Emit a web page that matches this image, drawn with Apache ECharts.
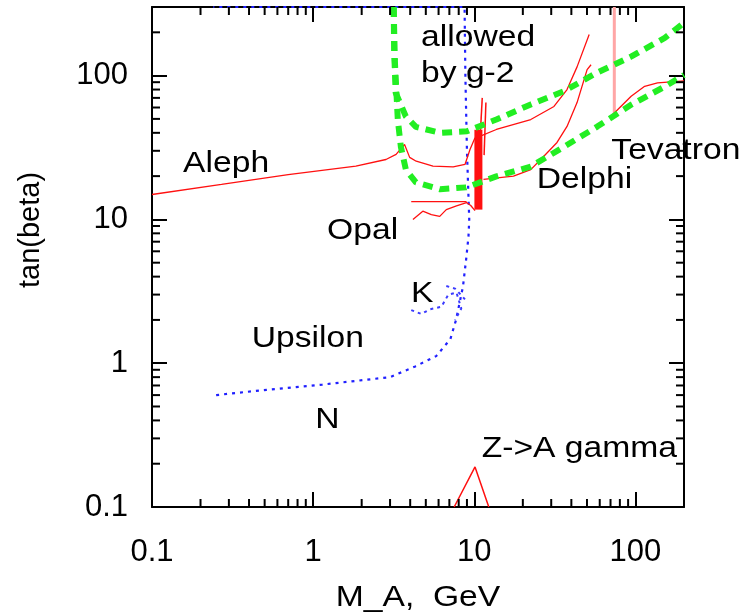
<!DOCTYPE html>
<html>
<head>
<meta charset="utf-8">
<title>tan(beta) vs M_A</title>
<script src="https://cdn.jsdelivr.net/npm/echarts@6/dist/echarts.min.js"></script>
<style>
  html, body { margin: 0; padding: 0; background: #fff; }
  #chart { width: 742px; height: 613px; }
</style>
</head>
<body>
<div id="chart"></div>
<script>
// axis ranges
let xMin = 0.1, xMax = 200
let yMin = 0.1, yMax = 300

// minor ticks (2..9 in each decade)
let xMinor = [0.2, 0.3, 0.4, 0.5, 0.6, 0.7, 0.8, 0.9, 2, 3, 4, 5, 6, 7, 8, 9, 20, 30, 40, 50, 60, 70, 80, 90]
let yMinor = [0.2, 0.3, 0.4, 0.5, 0.6, 0.7, 0.8, 0.9, 2, 3, 4, 5, 6, 7, 8, 9, 20, 30, 40, 50, 60, 70, 80, 90, 200]

// curves, [M_A, tan(beta)]
let alephCurve = [[0.1, 14.9], [0.27, 17.5], [0.7, 20.5], [1.84, 23.5], [2.83, 26.1], [3.27, 28.3], [3.69, 33.2],
    [3.97, 27], [4.36, 25.4], [5.54, 23.5], [7.39, 23.2], [8.75, 24.1], [9.4, 30.6], [10.1, 37]]
let upperRed = [[10.9, 37.9], [13.7, 42.2], [22.4, 49.5], [31.2, 61], [37.6, 80], [43.4, 115], [51.6, 193]]
let delphiCurve = [[11.4, 19], [17.5, 20], [22.4, 22.2], [27, 27.5], [32.6, 34.3], [37.6, 44.3], [43.4, 64.9], [50.1, 110], [53, 119]]
let opalFlat = [[4.06, 13.3], [8.95, 13.3]]
let opalZigzag = [[4.16, 10], [4.79, 11.4], [5.41, 10.8], [6.1, 10.5], [6.7, 11.7], [7.75, 12.4], [8.95, 13.1], [9.5, 12.5], [10.1, 11.5]]
let redBar = [[10.6, 11.7], [10.6, 42]]
let redSpikeA = [[11.2, 70], [10.9, 40]]
let redSpikeB = [[11.8, 65], [11.5, 28]]
let tevatronLine = [[73.9, 300], [73.9, 53.6]]
let tevatronCurve = [[70.5, 52.2], [94, 71.9], [114, 84.3], [137, 89], [183, 91.2], [200, 92]]
let zGamma = [[7.5, 0.1], [10.1, 0.19], [12.3, 0.1]]
let upsilonCurve = [[0.25, 0.6], [0.43, 0.64], [1.14, 0.71], [3.0, 0.8], [4.3, 0.95], [5.8, 1.12], [7.1, 1.47], [7.7, 2.0],
    [8.5, 3.4], [8.9, 5.3], [9.2, 7.6], [9.3, 10], [9.0, 30], [8.8, 100], [8.7, 300], [0.24, 300]]
let kCurveA = [[4.06, 2.34], [4.7, 2.2], [5.3, 2.37], [6.25, 2.47], [6.9, 3.0], [7.75, 3.1], [8.3, 2.4], [7.6, 2.0]]
let kCurveB = [[6.7, 3.44], [7.6, 3.3], [8.75, 2.78]]
let g2Upper = [[3.16, 300], [3.18, 150], [3.25, 76], [3.76, 52], [4.34, 44], [6.13, 40], [9.0, 41], [13.7, 49.5],
    [22.4, 63], [36, 78], [57.9, 105], [94.4, 136], [152, 183], [200, 233]]
let g2Lower = [[3.16, 300], [3.21, 129], [3.35, 49.5], [3.5, 32], [3.76, 22.2], [4.34, 18.1], [6.13, 16.2], [8.9, 16.7],
    [13.7, 19.9], [22.4, 23.3], [36, 32], [57.9, 44.2], [94.4, 62.9], [152, 83.9], [200, 101]]

// text annotations (left edge, middle)
let noteText = ['allowed', 'by g-2', 'Aleph', 'Opal', 'Delphi', 'Tevatron', 'K', 'Upsilon', 'N', 'Z->A gamma']
let noteX = [4.67, 4.67, 0.156, 1.22, 24.4, 70.8, 4.04, 0.416, 1.03, 11.1]
let noteY = [184, 103, 24.1, 8.26, 18.7, 30.1, 3.01, 1.47, 0.40, 0.253]

let font = 'Liberation Sans, Arial, sans-serif'
let fsize = 29
let stretch = 1.16   // text in the picture is a bit wide
let red = '#ff1010'

function lineSeries(data, color, width, type) {
    return {
        type: 'line',
        data: data,
        showSymbol: false,
        symbol: 'none',
        silent: true,
        lineStyle: { color: color, width: width, type: type || 'solid' },
        z: 3
    }
}

function logAxis(min, max, pos, showLabel) {
    return {
        type: 'log',
        logBase: 10,
        min: min,
        max: max,
        position: pos,
        splitLine: { show: false },
        axisLine: { show: true, onZero: false, lineStyle: { color: '#000', width: 2 } },
        axisTick: { show: true, inside: true, length: 15, lineStyle: { color: '#000', width: 2 } },
        axisLabel: {
            show: showLabel,
            showMaxLabel: false,
            fontSize: 31,
            fontFamily: font,
            color: '#000'
        }
    }
}

let chart = echarts.init(document.getElementById('chart'))

let xBottom = logAxis(xMin, xMax, 'bottom', true)
xBottom.axisLabel.margin = 30
let yLeft = logAxis(yMin, yMax, 'left', true)
yLeft.axisLabel.margin = 24

let option = {
    animation: false,
    backgroundColor: '#fff',
    grid: { left: 152, right: 58, top: 7, bottom: 106, containLabel: false },
    xAxis: [xBottom, logAxis(xMin, xMax, 'top', false)],
    yAxis: [yLeft, logAxis(yMin, yMax, 'right', false)],
    graphic: [
        {
            type: 'text',
            x: 31,
            y: 230,
            rotation: Math.PI / 2,
            style: {
                text: 'tan(beta)',
                font: fsize + 'px ' + font,
                fill: '#000',
                align: 'center',
                verticalAlign: 'middle'
            }
        },
        {
            type: 'text',
            x: 418,
            y: 598,
            scaleX: stretch,
            style: {
                text: 'M_A,  GeV',
                font: fsize + 'px ' + font,
                fill: '#000',
                align: 'center',
                verticalAlign: 'middle'
            }
        }
    ],
    series: [
        // minor ticks on all four sides
        {
            type: 'custom',
            silent: true,
            clip: false,
            data: [[1, 1]],
            z: 5,
            renderItem: function (params, api) {
                let kids = []
                let style = { stroke: '#000', lineWidth: 2 }
                xMinor.forEach(function (v) {
                    let b = api.coord([v, yMin])
                    let t = api.coord([v, yMax])
                    kids.push({ type: 'line', shape: { x1: b[0], y1: b[1], x2: b[0], y2: b[1] - 8 }, style: style })
                    kids.push({ type: 'line', shape: { x1: t[0], y1: t[1], x2: t[0], y2: t[1] + 8 }, style: style })
                })
                yMinor.forEach(function (v) {
                    let l = api.coord([xMin, v])
                    let r = api.coord([xMax, v])
                    kids.push({ type: 'line', shape: { x1: l[0], y1: l[1], x2: l[0] + 8, y2: l[1] }, style: style })
                    kids.push({ type: 'line', shape: { x1: r[0], y1: r[1], x2: r[0] - 8, y2: r[1] }, style: style })
                })
                return { type: 'group', children: kids }
            }
        },
        lineSeries(upsilonCurve, '#2020ff', 2.2, [3, 5]),
        lineSeries(kCurveA, '#3a3aff', 2, [3, 4]),
        lineSeries(kCurveB, '#3a3aff', 2, [3, 4]),
        lineSeries(tevatronLine, '#ffa6a6', 3),
        lineSeries(alephCurve, red, 1.3),
        lineSeries(upperRed, red, 1.3),
        lineSeries(delphiCurve, red, 1.3),
        lineSeries(opalFlat, red, 1.3),
        lineSeries(opalZigzag, red, 1.3),
        lineSeries(redBar, red, 8),
        lineSeries(redSpikeA, red, 1.5),
        lineSeries(redSpikeB, red, 1.5),
        lineSeries(tevatronCurve, red, 1.3),
        lineSeries(zGamma, red, 1.5),
        lineSeries(g2Upper, '#22ee22', 6, [10, 7]),
        lineSeries(g2Lower, '#22ee22', 6, [10, 7]),
        // text labels placed in data coordinates
        {
            type: 'custom',
            silent: true,
            clip: false,
            z: 10,
            data: noteX.map(function (x, i) { return [x, noteY[i]] }),
            renderItem: function (params, api) {
                let p = api.coord([api.value(0), api.value(1)])
                return {
                    type: 'text',
                    x: p[0],
                    y: p[1],
                    scaleX: stretch,
                    style: {
                        text: noteText[params.dataIndex],
                        font: fsize + 'px ' + font,
                        fill: '#000',
                        align: 'left',
                        verticalAlign: 'middle'
                    }
                }
            }
        }
    ]
}

chart.setOption(option)
</script>
</body>
</html>
